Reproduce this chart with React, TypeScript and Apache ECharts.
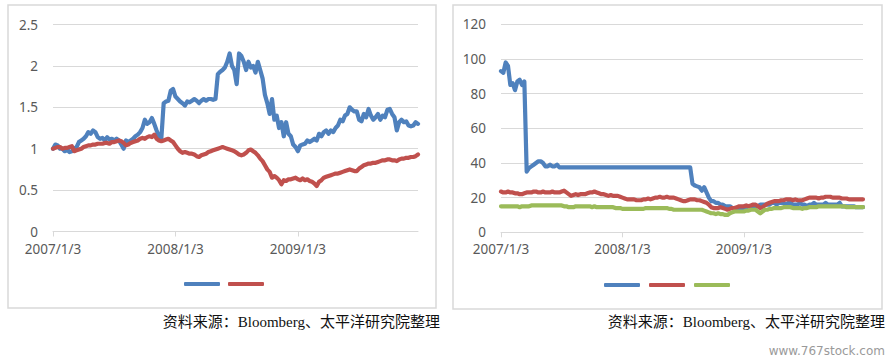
import React, { useEffect, useRef } from "react";
import * as echarts from "echarts";

// ---- data (weekly samples) ----
const years = [2007, 2008, 2009];
const xTickLabels = ["2007/1/3", "2008/1/3", "2009/1/3"];
const leftTicks = [0, 0.5, 1, 1.5, 2, 2.5];
const rightTicks = [0, 20, 40, 60, 80, 100, 120];

const leftBlue = [
  1.0, 1.05, 1.04, 1.0, 1.0, 0.97, 0.99, 0.96, 0.97, 1.0, 1.02, 1.08, 1.1, 1.12, 1.15, 1.2, 1.18, 1.22, 1.2, 1.14,
  1.12, 1.13, 1.1, 1.14, 1.11, 1.12, 1.1, 1.12, 1.1, 1.05, 1.0, 1.1, 1.08, 1.1, 1.12, 1.15, 1.17, 1.2, 1.25, 1.35,
  1.3, 1.32, 1.37, 1.3, 1.22, 1.15, 1.12, 1.55, 1.57, 1.58, 1.7, 1.72, 1.63, 1.6, 1.57, 1.55, 1.52, 1.57, 1.56, 1.58,
  1.6, 1.58, 1.55, 1.58, 1.6, 1.58, 1.6, 1.6, 1.59, 1.6, 1.9, 1.93, 1.95, 1.98, 2.05, 2.15, 2.0, 1.95, 1.78, 2.15,
  2.12, 2.05, 1.95, 2.05, 1.98, 2.0, 1.92, 2.05, 1.95, 1.85, 1.65, 1.55, 1.42, 1.6, 1.35, 1.4, 1.25, 1.32, 1.15, 1.32,
  1.18, 1.15, 1.05, 1.02, 0.97, 1.04, 1.05, 1.06, 1.1, 1.08, 1.1, 1.12, 1.1, 1.18, 1.15, 1.2, 1.22, 1.18, 1.22, 1.2,
  1.25, 1.28, 1.35, 1.33, 1.4, 1.42, 1.5, 1.47, 1.45, 1.45, 1.35, 1.33, 1.42, 1.38, 1.48, 1.4, 1.35, 1.38, 1.42, 1.35,
  1.4, 1.38, 1.47, 1.48, 1.42, 1.38, 1.22, 1.32, 1.35, 1.32, 1.33, 1.28, 1.27, 1.28, 1.32, 1.3,
];

const leftRed = [
  1.0, 1.01, 1.02, 1.02, 1.0, 1.01, 1.01, 1.02, 1.03, 0.97, 0.98, 0.99, 1.0, 1.02, 1.03, 1.04, 1.04, 1.05, 1.05, 1.06,
  1.06, 1.06, 1.07, 1.07, 1.06, 1.08, 1.08, 1.09, 1.1, 1.09, 1.07, 1.04, 1.05, 1.07, 1.08, 1.09, 1.1, 1.12, 1.13, 1.12,
  1.14, 1.15, 1.14, 1.17, 1.12, 1.1, 1.09, 1.1, 1.11, 1.12, 1.1, 1.08, 1.04, 1.0, 0.97, 0.95, 0.96, 0.95, 0.94, 0.94,
  0.93, 0.91, 0.9, 0.92, 0.93, 0.94, 0.96, 0.97, 0.98, 0.99, 1.0, 1.01, 1.02, 1.01, 1.0, 0.99, 0.98, 0.97, 0.95, 0.93,
  0.92, 0.93, 0.95, 0.98, 0.99, 0.97, 0.95, 0.92, 0.88, 0.85, 0.8, 0.75, 0.72, 0.65, 0.67, 0.65, 0.62, 0.57, 0.62, 0.61,
  0.63, 0.63, 0.64, 0.65, 0.63, 0.62, 0.64, 0.62, 0.63, 0.61, 0.6, 0.58, 0.55, 0.6, 0.62, 0.65, 0.66, 0.67, 0.68, 0.69,
  0.7, 0.7, 0.71, 0.72, 0.73, 0.74, 0.75, 0.74, 0.73, 0.73, 0.76, 0.78, 0.8, 0.81, 0.82, 0.82, 0.83, 0.83, 0.84, 0.85,
  0.86, 0.86, 0.87, 0.87, 0.86, 0.86, 0.85, 0.87, 0.88, 0.88, 0.89, 0.89, 0.9, 0.9, 0.91, 0.93,
];

const rightBlue = [
  93, 92, 98, 96, 85, 86, 82, 87, 88, 85, 87, 35, 37, 38, 39, 40, 41, 41, 40, 38,
  38, 39, 38, 38, 39, 37.5, 37.5, 37.5, 37.5, 37.5, 37.5, 37.5, 37.5, 37.5, 37.5, 37.5, 37.5, 37.5, 37.5, 37.5,
  37.5, 37.5, 37.5, 37.5, 37.5, 37.5, 37.5, 37.5, 37.5, 37.5, 37.5, 37.5, 37.5, 37.5, 37.5, 37.5, 37.5, 37.5, 37.5, 37.5,
  37.5, 37.5, 37.5, 37.5, 37.5, 37.5, 37.5, 37.5, 37.5, 37.5, 37.5, 37.5, 37.5, 37.5, 37.5, 37.5, 37.5, 37.5, 37.5, 37.5,
  37.5, 37.5, 28, 27, 26.5, 26, 24, 26, 23, 20, 18, 18, 17, 17, 16, 16, 15, 15, 15, 14,
  14, 14, 14, 14, 14, 14.5, 15, 15, 14, 15, 15, 16, 16, 16, 16, 16, 17, 17, 16, 17,
  17, 17, 16, 17, 17, 16, 16, 16, 17, 16, 16, 15, 16, 16, 17, 16, 16, 16, 16, 17,
  16, 16, 16, 16, 16, 17, 15, 15, 15, 15, 15, 15, 14.5, 14.5, 14.5, 14.5,
];

const rightRed = [
  23.5, 23, 23, 23.5, 23, 23, 22.5, 22.5, 22, 22, 22.5, 23, 23, 23, 23.5, 23.5, 23, 23, 23.5, 23,
  23, 23, 23.5, 23, 23, 23, 23.5, 24, 23, 22, 21, 21.5, 22, 21.5, 22, 22, 22, 22.5, 23, 23,
  23.5, 23, 22.5, 22, 22, 21.5, 21, 21.5, 21, 21, 21, 20.5, 20, 19.5, 19, 19, 19, 19, 18.5, 18.5,
  18.5, 19, 19, 19.5, 19, 19.5, 20, 20, 20.5, 20, 20, 20.5, 20, 20, 20, 19.5, 19, 18.5, 18, 18,
  18.5, 19, 19, 19, 18.5, 18.5, 18, 17.5, 17, 16, 14.5, 14, 14, 14, 14.5, 14, 13.5, 13, 13.5, 14,
  14, 14.5, 15, 15, 15, 15.5, 15, 15.5, 16, 16, 15, 14, 14.5, 15.5, 16.5, 17, 17.5, 18, 18, 18,
  18.5, 18.5, 19, 19, 19, 18.5, 19, 18.5, 18.5, 18.5, 19, 19.5, 20, 20, 20, 20, 19.5, 20, 20, 20.5,
  20.5, 20.5, 20, 20, 20, 20, 19.5, 19.5, 19.5, 19, 19, 19, 19, 19, 19, 19,
];

const rightGreen = [
  15, 15, 15, 15, 15, 15, 15, 15, 14.5, 15, 15, 15, 15, 15.5, 15.5, 15.5, 15.5, 15.5, 15.5, 15.5,
  15.5, 15.5, 15.5, 15.5, 15.5, 15.5, 15.5, 15, 15, 14.5, 14.5, 14.5, 15, 15, 15, 15, 15, 15, 15, 14.5,
  15, 14.5, 14.5, 14.5, 14.5, 14.5, 14.5, 14.5, 14.5, 14, 14, 14, 13.5, 13.5, 13.5, 13.5, 13.5, 13.5, 13.5, 13.5,
  13.5, 13.5, 14, 14, 14, 14, 14, 14, 14, 14, 14, 14, 13.5, 13.5, 13, 13, 13, 13, 13, 13,
  13, 13, 13, 13, 13, 13, 13, 12.5, 12, 11.5, 11, 11, 10.5, 11, 10.5, 10.5, 10, 10, 11, 11.5,
  12, 12, 12, 12, 12, 12.5, 12.5, 13, 13, 13, 12, 11, 12, 13, 13, 13.5, 13.5, 14, 14, 14,
  14, 14.5, 14.5, 14.5, 14.5, 14, 14, 14, 14, 13.5, 14, 14, 14.5, 14.5, 14.5, 14.5, 15, 15, 15, 15,
  15, 15, 15, 15, 15, 15, 15, 15, 14.5, 14.5, 14.5, 14.5, 14.5, 14.5, 14.5, 14.5,
];

const sourceText = "资料来源：Bloomberg、太平洋研究院整理";
const watermark = "www.767stock.com";

// weekly category dates, starting at Jan 3 of each year
const categories: string[] = [];
years.forEach((y) => {
  for (let k = 0; k < 52; k++) {
    const d = new Date(y, 0, 3 + 7 * k);
    categories.push(`${d.getFullYear()}/${d.getMonth() + 1}/${d.getDate()}`);
  }
});

const BLUE = "#4f81bd";
const RED = "#c0504d";
const GREEN = "#9bbb59";
const GRID = "#d9d9d9";
const LABEL = "#595959";
const FONT = "Noto Sans";

const showTick = (_i: number, v: string) => xTickLabels.includes(v);

function xAxis(gridIndex: number) {
  return {
    type: "category",
    gridIndex,
    data: categories,
    boundaryGap: false,
    axisLine: { lineStyle: { color: GRID, width: 1 } },
    axisTick: { show: true, interval: showTick, length: 5, lineStyle: { color: GRID } },
    axisLabel: { interval: showTick, color: LABEL, fontFamily: FONT, fontSize: 13.5, margin: 10 },
    splitLine: { show: false },
  };
}

function yAxis(gridIndex: number, ticks: number[]) {
  return {
    type: "value",
    gridIndex,
    min: ticks[0],
    max: ticks[ticks.length - 1],
    interval: ticks[1] - ticks[0],
    axisLine: { show: false },
    axisTick: { show: false },
    axisLabel: { color: LABEL, fontFamily: FONT, fontSize: 13.5, margin: 15 },
    splitLine: { lineStyle: { color: GRID, width: 1 } },
  };
}

function line(name: string, data: number[], color: string, axisIndex: number) {
  return {
    name,
    type: "line",
    xAxisIndex: axisIndex,
    yAxisIndex: axisIndex,
    data,
    showSymbol: false,
    symbol: "none",
    smooth: false,
    lineStyle: { color, width: 4.2, join: "round", cap: "round" },
    itemStyle: { color },
  };
}

export default function App() {
  const ref = useRef<HTMLDivElement>(null);
  useEffect(() => {
    if (!ref.current) return;
    const chart = echarts.init(ref.current, undefined, { renderer: "svg" });
    const legendCommon = {
      orient: "horizontal",
      icon: "roundRect",
      itemWidth: 36,
      itemHeight: 4,
      formatter: () => "",
      textStyle: { fontSize: 1, padding: 0 },
      padding: 0,
      selectedMode: false,
    };
    const srcFont = '15px "Liberation Serif", "Noto Sans CJK SC", serif';
    chart.setOption({
      animation: false,
      backgroundColor: "#ffffff",
      grid: [
        { left: 53, top: 24.5, width: 365, height: 207, containLabel: false },
        { left: 501, top: 24.3, width: 362, height: 208, containLabel: false },
      ],
      xAxis: [xAxis(0), xAxis(1)],
      yAxis: [yAxis(0, leftTicks), yAxis(1, rightTicks)],
      legend: [
        { ...legendCommon, data: ["L1", "L2"], left: 184, top: 282, itemGap: 8 },
        { ...legendCommon, data: ["R1", "R2", "R3"], left: 604, top: 283, itemGap: 9 },
      ],
      series: [
        line("L1", leftBlue, BLUE, 0),
        line("L2", leftRed, RED, 0),
        line("R1", rightBlue, BLUE, 1),
        line("R2", rightRed, RED, 1),
        line("R3", rightGreen, GREEN, 1),
      ],
      graphic: [
        {
          type: "rect",
          z: -10,
          shape: { x: 8, y: 5, width: 428, height: 303 },
          style: { fill: "none", stroke: GRID, lineWidth: 1.5 },
        },
        {
          type: "rect",
          z: -10,
          shape: { x: 453, y: 5, width: 429, height: 304 },
          style: { fill: "none", stroke: GRID, lineWidth: 1.5 },
        },
        {
          type: "text",
          x: 440,
          y: 322,
          style: { text: sourceText, fill: "#111", font: srcFont, align: "right", verticalAlign: "middle" },
        },
        {
          type: "text",
          x: 885,
          y: 322,
          style: { text: sourceText, fill: "#111", font: srcFont, align: "right", verticalAlign: "middle" },
        },
        {
          type: "text",
          x: 885,
          y: 351,
          style: {
            text: watermark,
            fill: "#9a9a9a",
            font: '12px "DejaVu Sans", sans-serif',
            align: "right",
            verticalAlign: "middle",
          },
        },
      ],
    });
    return () => chart.dispose();
  }, []);
  return (
    <div
      ref={ref}
      style={{ position: "fixed", left: 0, top: 0, width: 892, height: 363, background: "#fff" }}
    />
  );
}
